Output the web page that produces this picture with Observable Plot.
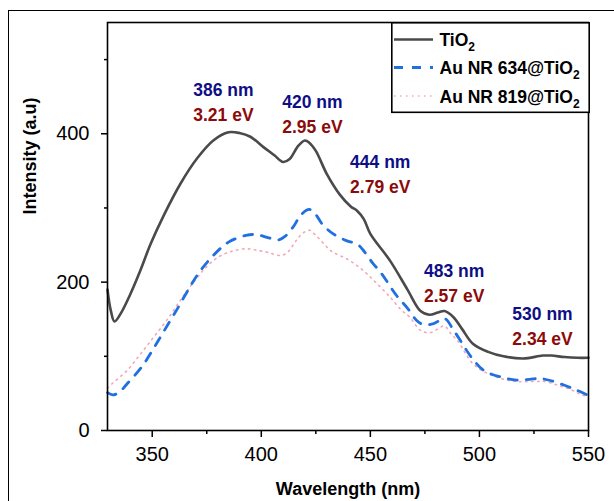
<!DOCTYPE html>
<html>
<head>
<meta charset="utf-8">
<script src="https://cdn.jsdelivr.net/npm/d3@7"></script>
<script src="https://cdn.jsdelivr.net/npm/@observablehq/plot@0.6"></script>
<style>
  html, body { margin: 0; padding: 0; background: #fff; }
  #wrap { position: relative; width: 614px; height: 501px; overflow: hidden; font-family: "Liberation Sans", Arial, sans-serif; }
  #outer { position: absolute; left: 8px; top: 9.5px; width: 700px; height: 600px; border-left: 1.5px solid #000; border-top: 1.5px solid #000; }
  #chart { position: absolute; left: 0; top: 0; }
  #legend { position: absolute; left: 391px; top: 22px; }
</style>
</head>
<body>
<div id="wrap">
  <div id="outer"></div>
  <div id="chart"></div>
  <div id="legend"></div>
</div>
<script>
// ---- data ----
const seriesNames = ["TiO2", "Au NR 634@TiO2", "Au NR 819@TiO2"];

const tio2Wl = [329.5, 331, 332.7, 336, 340, 344.6, 349.2, 355.3, 363, 370.6, 378, 385, 390, 395, 401, 406, 410, 413, 417, 420, 422, 425, 430, 436, 441, 444, 447, 450, 459, 467, 473, 477, 481, 484, 488, 492, 497, 504, 511, 520, 529, 533, 539, 545, 550];
const tio2Val = [190, 162, 147, 160, 184, 216, 251, 290, 333, 367, 391, 402, 401, 396, 382, 371, 362, 366, 384, 391, 388, 377, 346, 318, 302, 296, 285, 265, 229, 190, 161, 156, 159, 161, 153, 137, 117, 106, 100, 97, 101, 101, 99, 98, 98];

const au634Wl = [329.5, 332, 335, 338.5, 345, 350.7, 356, 361.5, 366, 371, 378, 385, 393, 398, 403, 408, 411, 415, 418, 422, 425, 428, 433, 439, 444, 447, 451, 455, 462, 467, 471, 474, 479, 484, 488, 492, 496, 502, 510, 517, 523, 528, 533, 539, 544, 548, 550];
const au634Val = [51, 48, 52, 63, 85, 111, 137, 164, 187, 211, 236, 254, 263, 264, 260, 257, 262, 276, 290, 298, 291, 278, 265, 256, 251, 242, 226, 212, 182, 165, 149, 143, 144, 151, 136, 118, 100, 81, 72, 68, 69, 70, 67, 61, 55, 50, 47];

const au819Wl = [329.5, 331.6, 338.5, 344.6, 350.7, 357, 363, 369, 375, 381, 387, 393, 398, 403, 409, 412, 416, 419, 422, 425, 428, 432, 440, 447, 453, 459, 464, 468, 473, 477.6, 481, 484, 487, 490, 497, 503, 510, 517, 525, 530, 536, 542, 547, 550];
const au819Val = [57, 63, 81, 103, 126, 150, 176, 200, 221, 235, 242, 245, 243, 240, 236, 240, 256, 266, 270, 263, 254, 242, 230, 215, 198, 180, 163, 153, 135, 132, 137, 141, 130, 121, 90, 78, 70, 66, 66, 66, 61, 55, 48, 46];

const xTicks = [350, 400, 450, 500, 550];
const xMinorTicks = [375, 425, 475, 525];
const yTicks = [0, 200, 400];
const yMinorTicks = [100, 300, 500];

const peakNm = [386, 420, 444, 483, 530];
const peakEv = ["3.21", "2.95", "2.79", "2.57", "2.34"];
// label anchors (wavelength, intensity) where each annotation starts
const labelAtWl = [368.8, 409.6, 440.7, 474.6, 515.1];
const labelAtVal = [451, 435, 354, 207, 149];

const xTitle = "Wavelength (nm)";
const yTitle = "Intensity (a.u)";

// ---- build tables ----
const toRows = (w, v) => w.map((d, i) => ({w: d, v: v[i]}));
const tio2 = toRows(tio2Wl, tio2Val);
const au634 = toRows(au634Wl, au634Val);
const au819 = toRows(au819Wl, au819Val);
const annots = peakNm.map((nm, i) => ({nm: nm + " nm", ev: peakEv[i] + " eV", x: labelAtWl[i], y: labelAtVal[i]}));

const colors = ["#4a4a4a", "#1f70e0", "#f2a8b5"];
const font = "'Liberation Sans', Arial, sans-serif";

const chart = Plot.plot({
  width: 614,
  height: 501,
  marginTop: 22,
  marginRight: 26,
  marginBottom: 71,
  marginLeft: 107,
  x: {domain: [329.5, 550]},
  y: {domain: [0, 550]},
  style: {fontFamily: font, fontSize: "20px", color: "#000", background: "transparent", overflow: "visible"},
  marks: [
    Plot.line(au819, {x: "w", y: "v", stroke: colors[2], strokeWidth: 1.6, strokeDasharray: "1.5,4.5", curve: "catmull-rom"}),
    Plot.line(au634, {x: "w", y: "v", stroke: colors[1], strokeWidth: 2.8, strokeDasharray: "9,9", curve: "catmull-rom"}),
    Plot.line(tio2, {x: "w", y: "v", stroke: colors[0], strokeWidth: 2.6, curve: "catmull-rom"}),
    Plot.frame({stroke: "#000", strokeWidth: 1.6}),
    Plot.axisX({ticks: xTicks, tickSize: 7, tickPadding: 9, label: null, strokeWidth: 1.5, fontSize: 20}),
    Plot.axisX({ticks: xMinorTicks, tickSize: 4, tickFormat: () => "", label: null, strokeWidth: 1.5}),
    Plot.axisY({ticks: yTicks, tickSize: 6, tickPadding: 12, label: null, strokeWidth: 1.5, fontSize: 20}),
    Plot.axisY({ticks: yMinorTicks, tickSize: 3, tickFormat: () => "", label: null, strokeWidth: 1.5}),
    Plot.text([xTitle], {frameAnchor: "bottom", dy: 64, lineAnchor: "bottom", text: d => d, fontWeight: "bold", fontSize: 18, fill: "#000"}),
    Plot.text([yTitle], {frameAnchor: "left", dx: -72, dy: -12, rotate: -90, lineAnchor: "bottom", text: d => d, fontWeight: "bold", fontSize: 18, fill: "#000"}),
    Plot.text(annots, {x: "x", y: "y", text: "nm", textAnchor: "start", lineAnchor: "bottom", fill: "#0e0e86", fontWeight: "bold", fontSize: 17.5}),
    Plot.text(annots, {x: "x", y: "y", dy: 25.5, text: "ev", textAnchor: "start", lineAnchor: "bottom", fill: "#8b0a0a", fontWeight: "bold", fontSize: 17.5})
  ]
});
document.getElementById("chart").appendChild(chart);

// ---- legend ----
const ns = "http://www.w3.org/2000/svg";
const lg = document.createElementNS(ns, "svg");
lg.setAttribute("width", 199);
lg.setAttribute("height", 92);
lg.style.fontFamily = font;
const box = document.createElementNS(ns, "rect");
box.setAttribute("x", 0.8); box.setAttribute("y", 0.8);
box.setAttribute("width", 197.4); box.setAttribute("height", 89.5);
box.setAttribute("fill", "#fff"); box.setAttribute("stroke", "#000"); box.setAttribute("stroke-width", 1.6);
lg.appendChild(box);
const dashes = [null, "9,9", "1.5,4.5"];
const widths = [2.6, 2.8, 1.6];
const rowY = [17.5, 45.5, 74];
seriesNames.forEach((name, i) => {
  const ln = document.createElementNS(ns, "line");
  ln.setAttribute("x1", 3); ln.setAttribute("x2", 42);
  ln.setAttribute("y1", rowY[i]); ln.setAttribute("y2", rowY[i]);
  ln.setAttribute("stroke", colors[i]); ln.setAttribute("stroke-width", widths[i]);
  if (dashes[i]) ln.setAttribute("stroke-dasharray", dashes[i]);
  lg.appendChild(ln);
  const t = document.createElementNS(ns, "text");
  t.setAttribute("x", 48.5); t.setAttribute("y", rowY[i] + 6.5);
  t.setAttribute("font-size", 17.5); t.setAttribute("font-weight", "bold"); t.setAttribute("fill", "#000");
  const base = name.replace(/2$/, "");
  const s1 = document.createElementNS(ns, "tspan"); s1.textContent = base; t.appendChild(s1);
  const s2 = document.createElementNS(ns, "tspan"); s2.textContent = "2";
  s2.setAttribute("font-size", 12); s2.setAttribute("dy", 5); t.appendChild(s2);
  lg.appendChild(t);
});
document.getElementById("legend").appendChild(lg);
</script>
</body>
</html>
